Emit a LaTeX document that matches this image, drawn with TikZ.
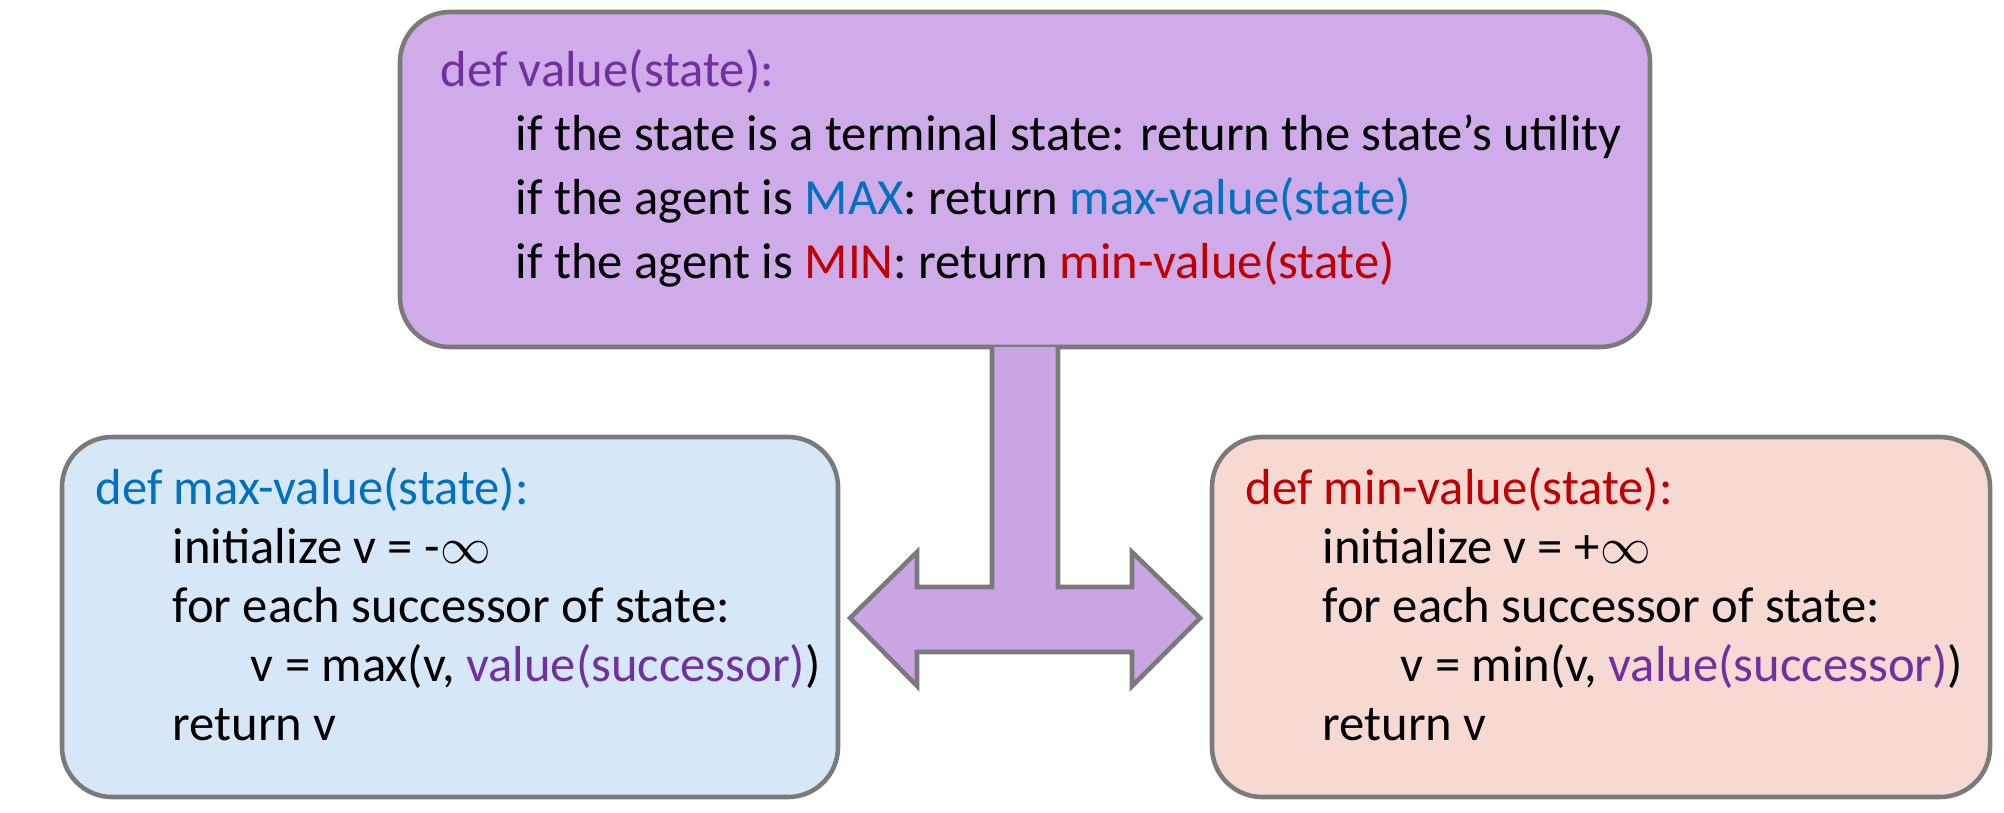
\documentclass[tikz,border=0pt]{standalone}
\usepackage{fontspec}
\setmainfont{Carlito}
\definecolor{boxgray}{HTML}{7A7A7A}
\definecolor{topfill}{HTML}{CFABE9}
\definecolor{arrowfill}{HTML}{C9A5E3}
\definecolor{maxfill}{HTML}{D6E7F8}
\definecolor{minfill}{HTML}{F6D9D3}
\definecolor{codepurple}{HTML}{7030A0}
\definecolor{codeblue}{HTML}{0070C0}
\definecolor{codered}{HTML}{C00000}
\begin{document}
\begin{tikzpicture}[x=0.01cm,y=-0.01cm,
	box/.style={draw=boxgray,line width=1.3pt,rounded corners=0.5cm},
	code/.style={anchor=base west,inner sep=0pt,font=\fontsize{14.4pt}{17pt}\selectfont}]
	\useasboundingbox (0,0) rectangle (2004,812);

	% boxes
	\draw[box,fill=topfill] (400,12) rectangle (1650,347);
	\draw[box,fill=maxfill] (62,437) rectangle (838,797);
	\draw[box,fill=minfill] (1212,437) rectangle (1990,797);

	% T arrow
	\draw[draw=boxgray,line width=1.3pt,fill=arrowfill,line join=miter]
		(992,347) -- (992,587) -- (917,587) -- (917,552) -- (850,618) -- (917,686) -- (917,652)
		-- (1132,652) -- (1132,686) -- (1200,618) -- (1132,552) -- (1132,587) -- (1058,587) -- (1058,347);

	% value
	\node[code,text=codepurple] (v0) at (440,86) {def value(state):};
	\node[code] (v1) at (515,150) {if the state is a terminal state: return the state’s utility};
	\node[code] (v2) at (515,214) {if the agent is \textcolor{codeblue}{MAX}: return \textcolor{codeblue}{max-value(state)}};
	\node[code] (v3) at (515,278) {if the agent is \textcolor{codered}{MIN}: return \textcolor{codered}{min-value(state)}};

	% max-value
	\node[code,text=codeblue] (a0) at (95,504) {def max-value(state):};
	\node[code] (a1) at (172,563) {initialize v = -$\infty$};
	\node[code] (a2) at (172,622) {for each successor of state:};
	\node[code] (a3) at (250,681) {v = max(v, \textcolor{codepurple}{value(successor)})};
	\node[code] (a4) at (172,740) {return v};

	% min-value
	\node[code,text=codered] (b0) at (1245,504) {def min-value(state):};
	\node[code] (b1) at (1322,563) {initialize v = +$\infty$};
	\node[code] (b2) at (1322,622) {for each successor of state:};
	\node[code] (b3) at (1400,681) {v = min(v, \textcolor{codepurple}{value(successor)})};
	\node[code] (b4) at (1322,740) {return v};
\end{tikzpicture}
\end{document}
